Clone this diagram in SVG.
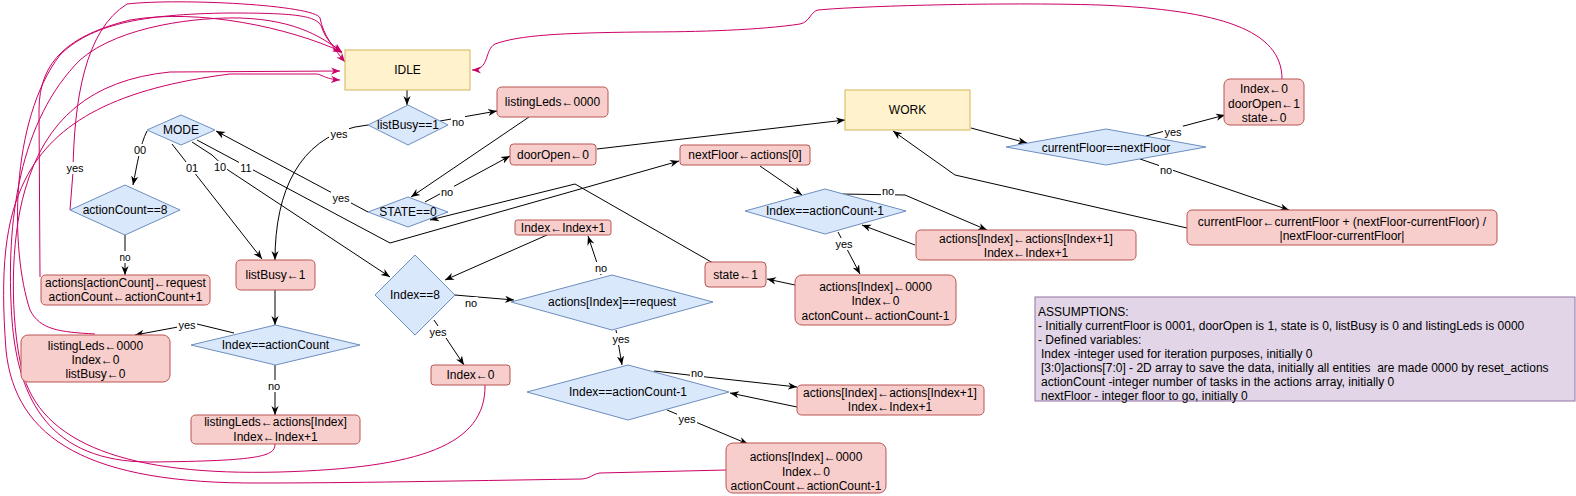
<svg xmlns="http://www.w3.org/2000/svg" width="1576" height="496" viewBox="0 0 1576 496">
<defs>
<marker id="a" viewBox="0 0 10 10" refX="10" refY="5" markerWidth="9" markerHeight="9" markerUnits="userSpaceOnUse" orient="auto"><path d="M0,1 L10,5 L0,9 L3,5 Z" fill="#000"/></marker>
<marker id="m" viewBox="0 0 10 10" refX="10" refY="5" markerWidth="9" markerHeight="9" markerUnits="userSpaceOnUse" orient="auto"><path d="M0,1 L10,5 L0,9 L3,5 Z" fill="#cc0066"/></marker>
<style>
text{font-family:"Liberation Sans",Arial,Helvetica,sans-serif;font-size:12px;fill:#000;text-anchor:middle}
.el{font-size:11px}
.asm text{text-anchor:start}
.y{fill:#fff2cc;stroke:#d6b656}
.r{fill:#f8cecc;stroke:#b85450}
.d{fill:#dae8fc;stroke:#6c8ebf}
.p{fill:#e1d5e7;stroke:#9673a6}
.e{fill:none;stroke:#000;stroke-width:1;marker-end:url(#a)}
.m{fill:none;stroke:#cc0066;stroke-width:1;marker-end:url(#m)}
.lb{fill:#fff}
</style>
</defs>
<rect width="1576" height="496" fill="#fff"/>
<g id="connectors">
<!-- magenta returns to IDLE -->
<path class="m" d="M70,210 L73,172 C74,100 85,30 127,4 C180,-2 315,5 320,18 C323,35 335,50 345,62"/>
<path class="m" d="M40,277 L39,110 C39,60 70,35 130,20 C200,8 290,28 342,52"/>
<path class="m" d="M95,334 C60,332 40,330 30,310 C10,250 10,120 60,55 C90,25 140,14 230,13 C300,13 318,16 322,28 C326,40 335,48 342,53"/>
<path class="m" d="M275,444 C275,456 262,461 150,462 C50,462 18,400 12,320 C5,220 20,120 80,60 C120,25 200,17 240,18 C300,20 325,40 342,52"/>
<path class="m" d="M485,385 C486,445 420,468 280,472 C130,476 40,445 22,370 C10,320 10,240 25,190 C45,120 90,80 170,72 L340,71"/>
<path class="m" d="M726,470 L600,473 C592,474 592,478 582,479 C450,481 350,483 260,483 C90,484 15,440 6,350 C0,270 5,220 25,180 C55,120 120,88 230,74 L316,74 C322,74 324,79 340,80"/>
<path class="m" d="M1282,79 C1282,30 1220,10 1100,5 C1000,2 860,6 818,10 C810,12 810,22 800,24 C760,30 700,32 640,32 C560,33 520,35 495,44 C484,50 490,70 472,70"/>
<!-- black -->
<path class="e" d="M407,90 L407,105"/>
<path class="e" d="M440,121 L497,111"/>
<path class="e" d="M368,125 L355,127 C300,140 275,190 275,260"/>
<path class="e" d="M529,117 L411,197"/>
<path class="e" d="M425,202 L510,156"/>
<path class="e" d="M597,149 L845,120"/>
<path class="e" d="M368,212 L216,131"/>
<path class="e" d="M147,131 C140,145 137,165 133,185"/>
<path class="e" d="M172,144 L262,259"/>
<path class="e" d="M192,142 L212,155 L228,170 L390,277"/>
<path class="e" d="M197,140 L390,243 L679,161"/>
<path class="e" d="M760,166 L802,195"/>
<path class="e" d="M840,194 L905,195 L987,230"/>
<path class="e" d="M915,245 L862,225"/>
<path class="e" d="M838,232 L860,274"/>
<path class="e" d="M795,285 L767,279"/>
<path class="e" d="M713,263 L575,184 L430,220"/>
<path class="e" d="M971,128 L1027,143"/>
<path class="e" d="M1146,136 L1225,115"/>
<path class="e" d="M1140,159 L1289,210"/>
<path class="e" d="M1187,228 L955,175 L893,131"/>
<path class="e" d="M455,295 L478,297 L514,300"/>
<path class="e" d="M434,320 L464,365"/>
<path class="e" d="M601,275 L588,236"/>
<path class="e" d="M547,235 L445,280"/>
<path class="e" d="M616,330 L622,365"/>
<path class="e" d="M654,371 L706,377 L797,387"/>
<path class="e" d="M797,407 L730,393"/>
<path class="e" d="M667,410 L748,444"/>
<path class="e" d="M275,290 L275,325"/>
<path class="e" d="M234,333 L197,324 L178,327 L135,335"/>
<path class="e" d="M275,365 L275,415"/>
<path class="e" d="M125,235 L125,275"/>
<!-- labels -->
<g class="labels">
<rect class="lb" x="451" y="116" width="14" height="12"/><text class="el" x="458" y="126">no</text>
<rect class="lb" x="329" y="128" width="20" height="12"/><text class="el" x="339" y="138">yes</text>
<rect class="lb" x="440" y="186" width="14" height="12"/><text class="el" x="447" y="196">no</text>
<rect class="lb" x="331" y="192" width="20" height="12"/><text class="el" x="341" y="202">yes</text>
<rect class="lb" x="133" y="144" width="14" height="12"/><text class="el" x="140" y="154">00</text>
<rect class="lb" x="185" y="162" width="14" height="12"/><text class="el" x="192" y="172">01</text>
<rect class="lb" x="213" y="161" width="14" height="12"/><text class="el" x="220" y="171">10</text>
<rect class="lb" x="239" y="162" width="14" height="12"/><text class="el" x="246" y="172">11</text>
<rect class="lb" x="65" y="162" width="20" height="12"/><text class="el" x="75" y="172">yes</text>
<rect class="lb" x="881" y="185" width="14" height="12"/><text class="el" x="888" y="195">no</text>
<rect class="lb" x="834" y="238" width="20" height="12"/><text class="el" x="844" y="248">yes</text>
<rect class="lb" x="1163" y="126" width="20" height="12"/><text class="el" x="1173" y="136">yes</text>
<rect class="lb" x="1159" y="164" width="14" height="12"/><text class="el" x="1166" y="174">no</text>
<rect class="lb" x="464" y="297" width="14" height="12"/><text class="el" x="471" y="307">no</text>
<rect class="lb" x="428" y="326" width="20" height="12"/><text class="el" x="438" y="336">yes</text>
<rect class="lb" x="594" y="262" width="14" height="12"/><text class="el" x="601" y="272">no</text>
<rect class="lb" x="611" y="333" width="20" height="12"/><text class="el" x="621" y="343">yes</text>
<rect class="lb" x="690" y="367" width="14" height="12"/><text class="el" x="697" y="377">no</text>
<rect class="lb" x="677" y="413" width="20" height="12"/><text class="el" x="687" y="423">yes</text>
<rect class="lb" x="177" y="319" width="20" height="12"/><text class="el" x="187" y="329">yes</text>
<rect class="lb" x="267" y="380" width="14" height="12"/><text class="el" x="274" y="390">no</text>
<rect class="lb" x="118" y="251" width="14" height="12"/><text class="el" x="125" y="261" style="font-size:10px">no</text>
</g>
</g>
<g id="idle"><rect class="y" x="345" y="50" width="125" height="40"/><text x="407.5" y="74">IDLE</text></g>
<g id="work"><rect class="y" x="845" y="90" width="125" height="40"/><text x="907.5" y="114">WORK</text></g>
<g id="listbusy-check"><polygon class="d" points="368,125 408,105 448,125 408,145"/><text x="408" y="129">listBusy==1</text></g>
<g id="listingleds-clear"><rect class="r" x="497" y="87" width="111" height="30" rx="4.5"/><text x="552.5" y="106">listingLeds←0000</text></g>
<g id="mode"><polygon class="d" points="147,130 181,115 215,130 181,145"/><text x="181" y="134">MODE</text></g>
<g id="actioncount-check"><polygon class="d" points="70,210 125,185 180,210 125,235"/><text x="125" y="214">actionCount==8</text></g>
<g id="state-check"><polygon class="d" points="368,212 408,197 448,212 408,227"/><text x="408" y="216">STATE==0</text></g>
<g id="dooropen-clear"><rect class="r" x="510" y="144" width="86" height="21" rx="3.5"/><text x="553" y="159">doorOpen←0</text></g>
<g id="nextfloor-set"><rect class="r" x="680" y="145" width="130" height="20" rx="3"/><text x="745" y="159">nextFloor←actions[0]</text></g>
<g id="floor-check"><polygon class="d" points="1006,147 1106,129 1206,147 1106,165"/><text x="1106" y="152">currentFloor==nextFloor</text></g>
<g id="arrive"><rect class="r" x="1224" y="79" width="80" height="46" rx="6"/><text x="1264" y="93">Index←0</text><text x="1264" y="107.5">doorOpen←1</text><text x="1264" y="122">state←0</text></g>
<g id="move"><rect class="r" x="1187" y="210" width="310" height="35" rx="5"/><text x="1342" y="225.5">currentFloor←currentFloor + (nextFloor-currentFloor) /</text><text x="1342" y="240">|nextFloor-currentFloor|</text></g>
<g id="upper-index-check"><polygon class="d" points="745,211 825,189 906,211 825,234"/><text x="825" y="215">Index==actionCount-1</text></g>
<g id="upper-shift"><rect class="r" x="916" y="230" width="220" height="30" rx="4.5"/><text x="1026" y="242.5">actions[Index]←actions[Index+1]</text><text x="1026" y="256.5">Index←Index+1</text></g>
<g id="upper-clear"><rect class="r" x="795" y="275" width="161" height="50" rx="7"/><text x="875.5" y="290.5">actions[Index]←0000</text><text x="875.5" y="305">Index←0</text><text x="875.5" y="319.5">actonCount←actionCount-1</text></g>
<g id="state-set"><rect class="r" x="705" y="262" width="61" height="25" rx="4"/><text x="735.5" y="278.5">state←1</text></g>
<g id="index-inc"><rect class="r" x="515" y="220" width="96" height="15" rx="2.5"/><text x="563" y="231.5">Index←Index+1</text></g>
<g id="index8-check"><polygon class="d" points="375,295 415,255 455,295 415,335"/><text x="415" y="299">Index==8</text></g>
<g id="request-check"><polygon class="d" points="511,302 612,275 713,302 612,330"/><text x="612" y="306">actions[Index]==request</text></g>
<g id="index-reset"><rect class="r" x="431" y="365" width="79" height="20" rx="3"/><text x="470.5" y="379">Index←0</text></g>
<g id="lower-index-check"><polygon class="d" points="527,392 628,365 729,392 628,420"/><text x="628" y="396">Index==actionCount-1</text></g>
<g id="lower-shift"><rect class="r" x="797" y="385" width="187" height="30" rx="4.5"/><text x="890" y="397">actions[Index]←actions[Index+1]</text><text x="890" y="411">Index←Index+1</text></g>
<g id="lower-clear"><rect class="r" x="726" y="443" width="160" height="50" rx="7"/><text x="806" y="461">actions[Index]←0000</text><text x="806" y="475.5">Index←0</text><text x="806" y="490">actionCount←actionCount-1</text></g>
<g id="listbusy-set"><rect class="r" x="236" y="260" width="79" height="30" rx="4.5"/><text x="275.5" y="279">listBusy←1</text></g>
<g id="index-count-check"><polygon class="d" points="191,345 275.5,325 360,345 275.5,365"/><text x="275.5" y="349">Index==actionCount</text></g>
<g id="list-reset"><rect class="r" x="21" y="335" width="149" height="47" rx="7"/><text x="95.5" y="350">listingLeds←0000</text><text x="95.5" y="364">Index←0</text><text x="95.5" y="378">listBusy←0</text></g>
<g id="add-request"><rect class="r" x="41" y="275" width="169" height="30" rx="4.5"/><text x="125.5" y="286.8">actions[actionCount]←request</text><text x="125.5" y="301.2">actionCount←actionCount+1</text></g>
<g id="list-show"><rect class="r" x="191" y="415" width="169" height="29" rx="4.5"/><text x="275.5" y="426.3">listingLeds←actions[Index]</text><text x="275.5" y="440.7">Index←Index+1</text></g>
<g id="assumptions" class="asm"><rect class="p" x="1035" y="297" width="540" height="104"/>
<text x="1038" y="316">ASSUMPTIONS:</text>
<text x="1038" y="330">- Initially currentFloor is 0001, doorOpen is 1, state is 0, listBusy is 0 and listingLeds is 0000</text>
<text x="1038" y="344">- Defined variables:</text>
<text x="1041" y="358">Index -integer used for iteration purposes, initially 0</text>
<text x="1041" y="372" xml:space="preserve">[3:0]actions[7:0] - 2D array to save the data, initially all entities  are made 0000 by reset_actions</text>
<text x="1041" y="386">actionCount -integer number of tasks in the actions array, initially 0</text>
<text x="1041" y="400">nextFloor - integer floor to go, initially 0</text>
</g>
</svg>
